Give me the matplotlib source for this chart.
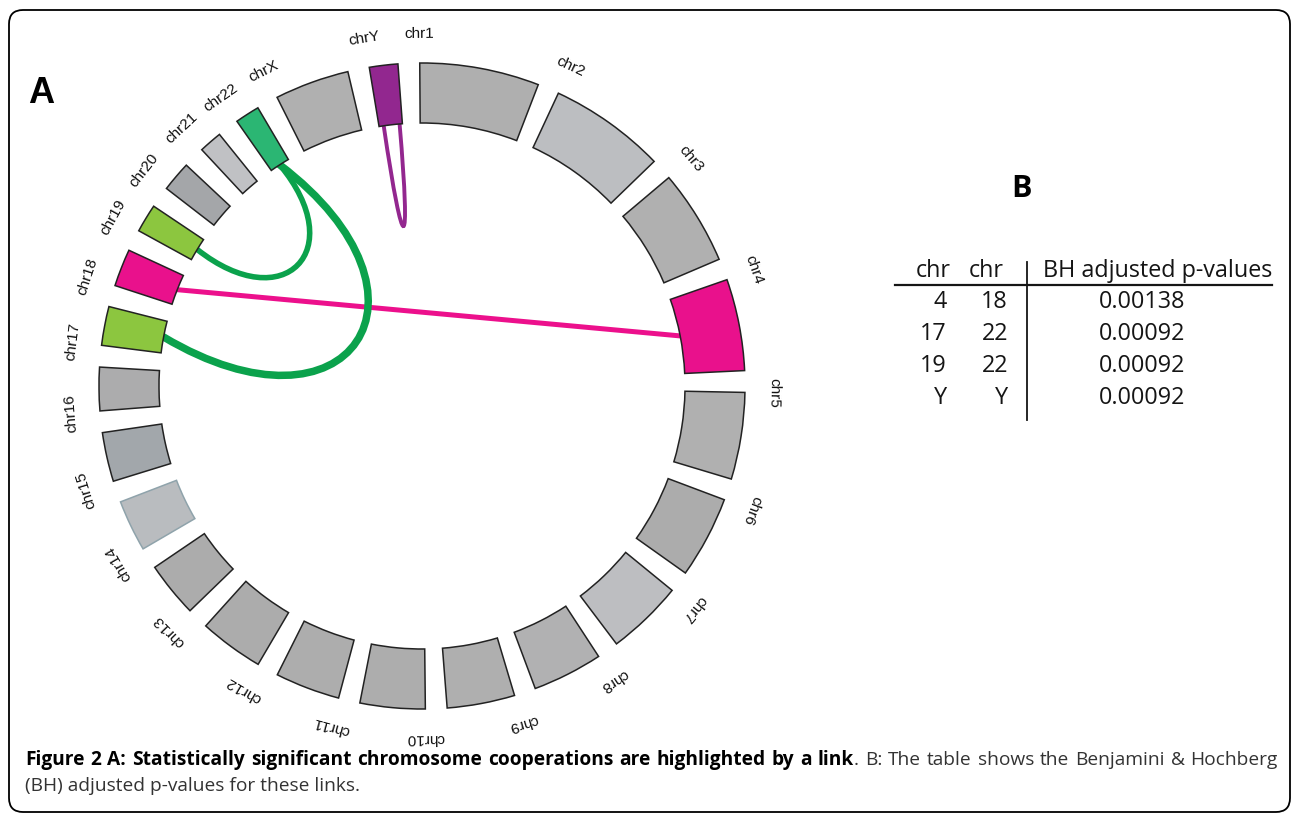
import numpy as np
import matplotlib.pyplot as plt
from matplotlib.patches import Wedge, PathPatch, FancyBboxPatch
from matplotlib.path import Path

# chromosomes in drawing order (clockwise from the top) and their sizes in Mb
chroms = ['chr1', 'chr2', 'chr3', 'chr4', 'chr5', 'chr6', 'chr7', 'chr8',
          'chr9', 'chr10', 'chr11', 'chr12', 'chr13', 'chr14', 'chr15', 'chr16',
          'chr17', 'chr18', 'chr19', 'chr20', 'chr21', 'chr22', 'chrX', 'chrY']
sizes = [249.25, 243.20, 198.02, 191.15, 180.92, 171.12, 159.14, 146.36,
         141.21, 135.53, 135.01, 133.85, 115.17, 107.35, 102.53, 90.35,
         81.20, 78.08, 59.13, 63.03, 48.13, 51.30, 155.27, 59.37]
colors = ['#afafaf', '#bcbec1', '#b0b0b0', '#e9118c', '#b0b0b0', '#acacac',
          '#bdbec1', '#b1b1b2', '#afafaf', '#adadad', '#adadad', '#acacac',
          '#acacac', '#b9bcbf', '#a2a7ab', '#acacad', '#8cc63f', '#e9118c',
          '#8cc63f', '#a4a6a9', '#c0c1c4', '#2bb673', '#b0b0b0', '#92278f']
edges = ['#222222'] * 24
edges[13] = '#8fa3ab'

# significant links: chromosome a / b and relative position inside them
link_a = ['chr4', 'chr17', 'chr19', 'chrY']
link_a_pos = [0.5, 0.5, 0.5, 0.2]
link_b = ['chr18', 'chr22', 'chr22', 'chrY']
link_b_pos = [0.5, 0.5, 0.5, 0.88]
link_colors = ['#ec108c', '#0ba24c', '#0ba24c', '#93278f']
link_widths = [3.6, 5.4, 4.0, 2.8]
link_depth = [0, 217, 111, 136]
link_flare = [0, 20, 7, 0]

# table B
tab_chr_a = ['4', '17', '19', 'Y']
tab_chr_b = ['18', '22', '22', 'Y']
tab_p = ['0.00138', '0.00092', '0.00092', '0.00092']

caption_bold = 'Figure 2 A: Statistically significant chromosome cooperations are highlighted by a link'
caption_reg = '. B: The table shows the Benjamini & Hochberg'
caption_line2 = '(BH) adjusted p-values for these links.'

# layout (pixels)
W, H = 1293, 817
CX, CY = 422, 386
R_OUT, R_IN = 323, 263
START, GAP = -0.4, 3.875
scale = (360 - GAP * len(chroms)) / sum(sizes)

starts, spans = [], []
t = START
for s in sizes:
    starts.append(t)
    spans.append(s * scale)
    t += s * scale + GAP
idx = {c: i for i, c in enumerate(chroms)}


def pt(theta, r):
    a = np.radians(theta)
    return np.array([CX + r * np.sin(a), CY - r * np.cos(a)])


def inward(theta, rot):
    a = np.radians(theta)
    v = np.array([-np.sin(a), np.cos(a)])
    c, s = np.cos(np.radians(rot)), np.sin(np.radians(rot))
    return np.array([v[0] * c - v[1] * s, v[0] * s + v[1] * c])


fig = plt.figure(figsize=(W / 100, H / 100), dpi=100)
ax = fig.add_axes([0, 0, 1, 1])
ax.set_xlim(0, W)
ax.set_ylim(H, 0)
ax.axis('off')

# frame
ax.add_patch(FancyBboxPatch((9, 10), 1281, 802, boxstyle='round,pad=0,rounding_size=14',
                            fc='none', ec='black', lw=1.3))

# chromosome segments + labels
for i, c in enumerate(chroms):
    th1 = starts[i] - 90
    th2 = starts[i] + spans[i] - 90
    ax.add_patch(Wedge((CX, CY), R_OUT, th1, th2, width=R_OUT - R_IN,
                       fc=colors[i], ec=edges[i], lw=1.1, zorder=3))
    lx, ly = pt(starts[i], 352)
    ax.text(lx, ly, c, fontsize=11, family='Liberation Sans', color='#111111',
            rotation=-starts[i], ha='center', va='center', rotation_mode='anchor')

# links
for a, pa, b, pb, col, lw, k, fl in zip(link_a, link_a_pos, link_b, link_b_pos,
                                         link_colors, link_widths, link_depth, link_flare):
    ta = starts[idx[a]] + pa * spans[idx[a]]
    tb = starts[idx[b]] + pb * spans[idx[b]]
    d = (tb - ta + 180) % 360 - 180
    sg = np.sign(d)
    p0, p3 = pt(ta, R_IN), pt(tb, R_IN)
    c1 = p0 + k * inward(ta, sg * fl)
    c2 = p3 + k * inward(tb, -sg * fl)
    path = Path([p0, c1, c2, p3], [Path.MOVETO, Path.CURVE4, Path.CURVE4, Path.CURVE4])
    ax.add_patch(PathPatch(path, fc='none', ec=col, lw=lw, zorder=2, capstyle='round'))

# panel letters
ax.text(28, 103, 'A', fontsize=26, fontweight='bold', family='Liberation Sans',
        ha='left', va='baseline')
ax.text(1022, 197, 'B', fontsize=22, fontweight='bold', family='Open Sans',
        ha='center', va='baseline')

# table
tf = dict(fontsize=16.8, family='Open Sans', color='#151515', va='baseline')
ax.text(933, 277, 'chr', ha='center', **tf)
ax.text(986, 277, 'chr', ha='center', **tf)
ax.text(1043, 277, 'BH adjusted p-values', ha='left', **tf)
ax.plot([895, 1272], [285, 285], color='#151515', lw=1.6)
ax.plot([1027, 1027], [262, 420], color='#151515', lw=1.3)
for j in range(len(tab_p)):
    y = 308 + j * 32
    ax.text(947, y, tab_chr_a[j], ha='right', **tf)
    ax.text(1008, y, tab_chr_b[j], ha='right', **tf)
    ax.text(1142, y, tab_p[j], ha='center', **tf)

# caption, first line justified
renderer = fig.canvas.get_renderer()


def text_w(s, weight, size):
    tt = ax.text(0, 0, s, fontsize=size, fontweight=weight, family='Open Sans')
    w = tt.get_window_extent(renderer).width
    tt.remove()
    return w


words = [[(w, 'bold')] for w in caption_bold.split()]
words[-1].append(('.', 'normal'))
words += [[(w, 'normal')] for w in caption_reg[1:].split()]

x0, x1 = 25, 1278
base = 10
nat = sum(text_w(p, wt, base) for wd in words for p, wt in wd)
sp = text_w('a a', 'normal', base) - text_w('aa', 'normal', base)
cap_size = base * 0.985 * (x1 - x0) / (nat + sp * (len(words) - 1))

widths = [[text_w(p, wt, cap_size) for p, wt in wd] for wd in words]
total = sum(sum(w) for w in widths)
gap = (x1 - x0 - total) / (len(words) - 1)
x = x0
for wd, ws in zip(words, widths):
    for (p, wt), w in zip(wd, ws):
        ax.text(x, 765, p, fontsize=cap_size, fontweight=wt, family='Open Sans',
                color='black' if wt == 'bold' else '#333333', va='baseline')
        x += w
    x += gap
ax.text(x0, 791, caption_line2, fontsize=cap_size, family='Open Sans',
        color='#333333', va='baseline')

fig.savefig('out.png', dpi=100)
